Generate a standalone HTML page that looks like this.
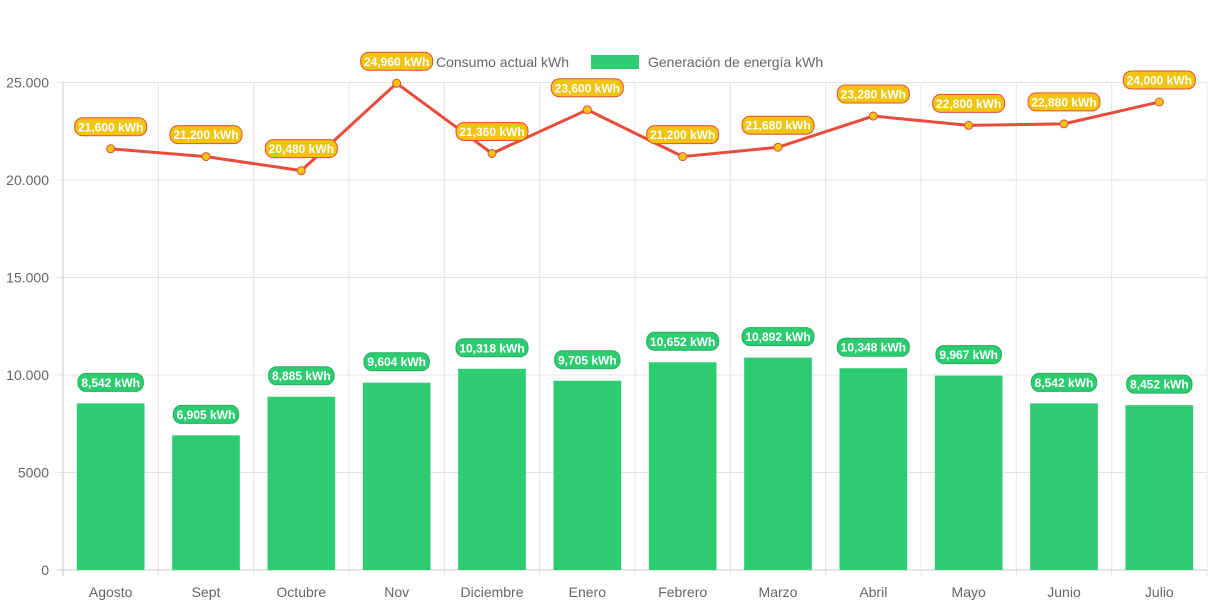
<!DOCTYPE html>
<html><head><meta charset="utf-8"><style>
body{margin:0;background:#fff;}
svg{display:block;font-family:"Liberation Sans",sans-serif;}
</style></head><body>
<svg id="c" width="1213" height="606"></svg>
<script>
const categories=["Agosto","Sept","Octubre","Nov","Diciembre","Enero","Febrero","Marzo","Abril","Mayo","Junio","Julio"];
const consumo=[21600,21200,20480,24960,21360,23600,21200,21680,23280,22800,22880,24000];
const generacion=[8542,6905,8885,9604,10318,9705,10652,10892,10348,9967,8542,8452];
const yTicks=[0,5000,10000,15000,20000,25000];
const yTickLabels=["0","5000","10.000","15.000","20.000","25.000"];
const NS="http://www.w3.org/2000/svg";
const svg=document.getElementById('c');
const L=63,R=1207,T=82.5,B=570,yMax=25000;
const cw=(R-L)/categories.length;
const x=i=>L+cw*(i+0.5);
const y=v=>B-(v/yMax)*(B-T);
function el(t,a,p){const e=document.createElementNS(NS,t);for(const k in a)e.setAttribute(k,a[k]);(p||svg).appendChild(e);return e;}
const fmt=v=>v.toLocaleString('en-US')+' kWh';
// grid
yTicks.forEach((t,i)=>{
  const g=el('line',{x1:L-6,x2:R,y1:y(t),y2:y(t),stroke:t===0?'#ccc':'#e4e4e4'});
  
  
  const tx=el('text',{x:L-14,y:y(t)+5,'text-anchor':'end','font-size':14,fill:'#666'});
  tx.textContent=yTickLabels[i];
  
  
});
for(let i=0;i<=categories.length;i++){
  const g=el('line',{x1:L+cw*i,x2:L+cw*i,y1:T,y2:B+6,stroke:i===0?'#ccc':'#e4e4e4'});
  
  
}
categories.forEach((c,i)=>{
  const tx=el('text',{x:x(i),y:597,'text-anchor':'middle','font-size':14,fill:'#666'});
  tx.textContent=c;
  
  
});
// bars
const bw=cw*0.71;
generacion.forEach((v,i)=>{
  const b=el('rect',{x:x(i)-bw/2,y:y(v),width:bw,height:B-y(v),fill:'#2ecc71'});
  
  
});
// line
const pts=consumo.map((v,i)=>x(i)+','+y(v)).join(' ');
const ln=el('polyline',{points:pts,fill:'none',stroke:'#e74c3c','stroke-width':3});


consumo.forEach((v,i)=>{
  const p=el('circle',{cx:x(i),cy:y(v),r:4,fill:'#f1c40f',stroke:'#e74c3c','stroke-width':1});
  
  
});
function label(cx,cy,txt,bg,bd,name){
  const w=txt.length*6.6+6;
  const r=el('rect',{x:cx-w/2,y:cy-9,width:w,height:18,rx:8,fill:bg,stroke:bd,'stroke-width':1});
  
  
  const t=el('text',{x:cx,y:cy+4.5,'text-anchor':'middle','font-size':12,'font-weight':'bold',fill:'#fff'});
  t.textContent=txt;
  
  
}
generacion.forEach((v,i)=>label(x(i),y(v)-21,fmt(v),'#2ecc71','#27ae60','generation-value-label'));
// legend
const lt1=el('text',{x:436,y:67,'font-size':14,fill:'#666'});
lt1.textContent='Consumo actual kWh';


const lb=el('rect',{x:591,y:55,width:48,height:14,fill:'#2ecc71'});


const lt2=el('text',{x:648,y:67,'font-size':14,fill:'#666'});
lt2.textContent='Generación de energía kWh';


consumo.forEach((v,i)=>label(x(i),y(v)-22,fmt(v),'#f1c40f','#e74c3c','consumption-value-label'));
</script>
</body></html>
